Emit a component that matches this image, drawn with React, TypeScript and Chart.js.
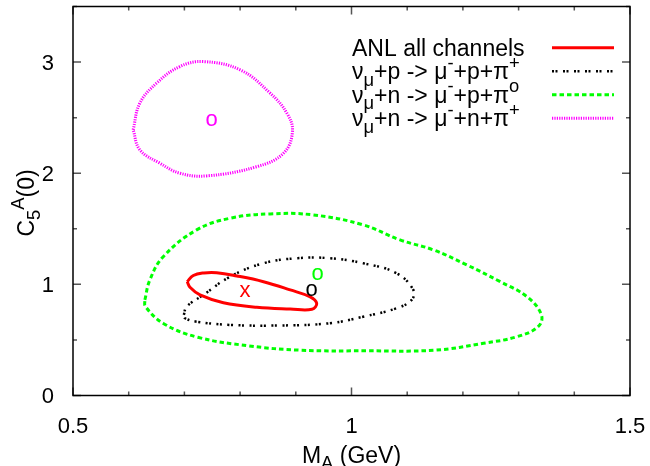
import React, { useEffect, useRef } from 'react';
import { Chart, registerables } from 'chart.js';

Chart.register(...registerables);

// ---------- data ----------
const xTicks = [0.5, 1, 1.5];
const yTicks = [0, 1, 2, 3];
const xMinorStep = 0.1;
const yMinorStep = 0.5;

const seriesNames = [
  'ANL all channels',
  'ν_μ+p -> μ^-+p+π^+',
  'ν_μ+n -> μ^-+p+π^o',
  'ν_μ+n -> μ^-+n+π^+',
];
const xTitle = 'M_A (GeV)';
const yTitle = 'C_5^A(0)';

// ANL all channels contour
const anlX = [0.705, 0.716, 0.735, 0.758, 0.794, 0.842, 0.890, 0.925, 0.9375, 0.929, 0.890, 0.830, 0.770, 0.728, 0.710, 0.705];
const anlY = [1.024, 1.080, 1.103, 1.105, 1.076, 1.024, 0.950, 0.889, 0.830, 0.776, 0.779, 0.794, 0.835, 0.905, 0.974, 1.024];

// nu_mu + p -> mu- + p + pi+
const ppX = [0.699, 0.704, 0.734, 0.782, 0.842, 0.902, 0.961, 1.021, 1.081, 1.111, 1.108, 1.081, 1.021, 0.961, 0.872, 0.782, 0.722, 0.701, 0.699];
const ppY = [0.725, 0.799, 0.905, 1.069, 1.190, 1.235, 1.235, 1.190, 1.100, 0.950, 0.860, 0.785, 0.709, 0.650, 0.630, 0.635, 0.664, 0.695, 0.725];

// nu_mu + n -> mu- + p + pi0
const np0X = [0.629, 0.638, 0.662, 0.722, 0.782, 0.854, 0.931, 1.021, 1.087, 1.147, 1.207, 1.267, 1.315, 1.341, 1.335, 1.297, 1.237, 1.150, 1.028, 0.907, 0.815, 0.724, 0.663, 0.630, 0.629];
const np0Y = [0.860, 1.040, 1.249, 1.490, 1.595, 1.634, 1.625, 1.535, 1.400, 1.310, 1.175, 1.024, 0.889, 0.725, 0.619, 0.529, 0.470, 0.408, 0.402, 0.408, 0.447, 0.524, 0.646, 0.800, 0.860];

// nu_mu + n -> mu- + n + pi+
const npX = [0.608, 0.620, 0.650, 0.692, 0.734, 0.800, 0.854, 0.884, 0.894, 0.878, 0.830, 0.740, 0.692, 0.656, 0.620, 0.608];
const npY = [2.390, 2.630, 2.810, 2.960, 3.004, 2.930, 2.720, 2.540, 2.374, 2.180, 2.059, 1.976, 2.000, 2.090, 2.210, 2.390];

// best-fit markers
const bestX = [0.809, 0.9285, 0.939, 0.749];
const bestY = [0.934, 0.943, 1.085, 2.471];
const bestGlyphs = ['x', 'o', 'o', 'o'];

// ---------- styles ----------
const FONT = '"Liberation Sans", Arial, Helvetica, sans-serif';
const FS = 23;
const TICK_FS = 22;
const COLORS = ['#ff0000', '#000000', '#00ff00', '#ff00ff'];
const DASHES = [[], [2, 1.5, 2, 5.5], [4.5, 3], [1.2, 1.2]];
const WIDTHS = [3, 2.5, 3, 3];

type Seg = { t: string; k?: 'sub' | 'sup' };

const parseRich = (s: string): Seg[] => {
  const out: Seg[] = [];
  let buf = '';
  for (let i = 0; i < s.length; i++) {
    const c = s[i];
    if ((c === '_' || c === '^') && i + 1 < s.length) {
      if (buf) { out.push({ t: buf }); buf = ''; }
      out.push({ t: s[i + 1], k: c === '_' ? 'sub' : 'sup' });
      i++;
    } else buf += c;
  }
  if (buf) out.push({ t: buf });
  return out;
};

const drawRich = (ctx: CanvasRenderingContext2D, text: string, x: number, y: number, size: number, align: 'left' | 'center') => {
  const segs = parseRich(text);
  const small = size * 0.8;
  const fontOf = (s: Seg) => `${s.k ? small : size}px ${FONT}`;
  let w = 0;
  for (const s of segs) { ctx.font = fontOf(s); w += ctx.measureText(s.t).width; }
  let cx = align === 'center' ? x - w / 2 : x;
  ctx.textAlign = 'left';
  ctx.textBaseline = 'alphabetic';
  for (const s of segs) {
    ctx.font = fontOf(s);
    const off = s.k === 'sub' ? size * 0.28 : s.k === 'sup' ? -size * 0.45 : 0;
    ctx.fillText(s.t, cx, y + off);
    cx += ctx.measureText(s.t).width;
  }
};

const pts = (xs: number[], ys: number[]) => xs.map((x, i) => ({ x, y: ys[i] }));

const decorPlugin = {
  id: 'decor',
  afterDatasetsDraw(chart: any) {
    const ctx: CanvasRenderingContext2D = chart.ctx;
    const { left, right, top, bottom } = chart.chartArea;
    const xs = chart.scales.x;
    const ys = chart.scales.y;
    ctx.save();
    // ticks (inward, mirrored)
    ctx.strokeStyle = '#555';
    ctx.lineWidth = 1.5;
    const isMajor = (v: number, arr: number[]) => arr.some((a) => Math.abs(a - v) < 1e-6);
    const nx = Math.round((xs.max - xs.min) / xMinorStep);
    for (let i = 0; i <= nx; i++) {
      const v = xs.min + i * xMinorStep;
      const px = xs.getPixelForValue(v);
      const len = isMajor(v, xTicks) ? 8 : 4;
      ctx.beginPath();
      ctx.moveTo(px, bottom); ctx.lineTo(px, bottom - len);
      ctx.moveTo(px, top); ctx.lineTo(px, top + len);
      ctx.stroke();
    }
    const ny = Math.round((ys.max - ys.min) / yMinorStep);
    for (let i = 0; i <= ny; i++) {
      const v = ys.min + i * yMinorStep;
      const py = ys.getPixelForValue(v);
      const len = isMajor(v, yTicks) ? 8 : 4;
      ctx.beginPath();
      ctx.moveTo(left, py); ctx.lineTo(left + len, py);
      ctx.moveTo(right, py); ctx.lineTo(right - len, py);
      ctx.stroke();
    }
    // frame
    ctx.strokeStyle = '#000';
    ctx.lineWidth = 1.5;
    ctx.strokeRect(left, top, right - left, bottom - top);

    // tick labels
    ctx.fillStyle = '#000';
    ctx.font = `${TICK_FS}px ${FONT}`;
    ctx.textBaseline = 'alphabetic';
    ctx.textAlign = 'center';
    xTicks.forEach((v) => ctx.fillText(String(v), xs.getPixelForValue(v), 433));
    ctx.textAlign = 'right';
    yTicks.forEach((v) => ctx.fillText(String(v), 54, ys.getPixelForValue(v) + 7.9));

    // best-fit glyphs
    const meta = chart.getDatasetMeta(4);
    ctx.font = `${TICK_FS}px ${FONT}`;
    ctx.textAlign = 'center';
    meta.data.forEach((el: any, i: number) => {
      ctx.fillStyle = COLORS[i];
      ctx.fillText(bestGlyphs[i], el.x, el.y + 5.5);
    });

    // legend
    const lx0 = 552, lx1 = 614, tx = 352;
    const rows = [47.7, 71.2, 94.7, 118.2];
    seriesNames.forEach((name, i) => {
      ctx.fillStyle = '#000';
      drawRich(ctx, name, tx, rows[i] + 8, FS, 'left');
      ctx.strokeStyle = COLORS[i];
      ctx.lineWidth = WIDTHS[i];
      ctx.setLineDash(DASHES[i]);
      ctx.beginPath();
      ctx.moveTo(lx0, rows[i]);
      ctx.lineTo(lx1, rows[i]);
      ctx.stroke();
      ctx.setLineDash([]);
    });

    // axis titles
    ctx.fillStyle = '#000';
    drawRich(ctx, xTitle, (left + right) / 2, 463, FS, 'center');
    ctx.translate(34, 203);
    ctx.rotate(-Math.PI / 2);
    drawRich(ctx, yTitle, 0, 0, FS, 'center');
    ctx.restore();
  },
};

export default function App() {
  const ref = useRef<HTMLCanvasElement>(null);
  useEffect(() => {
    document.body.style.margin = '0';
    const curves = [pts(anlX, anlY), pts(ppX, ppY), pts(np0X, np0Y), pts(npX, npY)];
    const datasets: any[] = curves.map((d, i) => ({
      label: seriesNames[i],
      data: d,
      showLine: true,
      borderColor: COLORS[i],
      borderWidth: WIDTHS[i],
      borderDash: DASHES[i],
      pointRadius: 0,
      tension: 0.4,
      fill: false,
    }));
    datasets.push({
      label: 'best fit',
      data: pts(bestX, bestY),
      showLine: false,
      pointRadius: 0,
    });
    const chart = new Chart(ref.current as HTMLCanvasElement, {
      type: 'scatter',
      data: { datasets },
      plugins: [decorPlugin],
      options: {
        responsive: false,
        animation: false,
        layout: { padding: { top: 6.5, right: 20, left: 0, bottom: 0 } },
        plugins: { legend: { display: false }, tooltip: { enabled: false } },
        scales: {
          x: {
            type: 'linear', min: 0.5, max: 1.5,
            grid: { display: false }, border: { display: false },
            ticks: { display: false },
            afterFit: (s: any) => { s.height = 70.5; },
          },
          y: {
            type: 'linear', min: 0, max: 3.5,
            grid: { display: false }, border: { display: false },
            ticks: { display: false },
            afterFit: (s: any) => { s.width = 73; },
          },
        },
      } as any,
    });
    return () => chart.destroy();
  }, []);
  return (
    <div style={{ width: 650, height: 466 }}>
      <canvas ref={ref} width={650} height={466} />
    </div>
  );
}
